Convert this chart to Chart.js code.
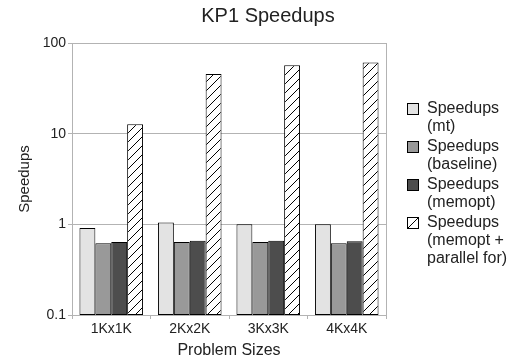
<!DOCTYPE html>
<html>
<head>
<meta charset="utf-8">
<script src="https://cdn.jsdelivr.net/npm/chart.js@4.4.1/dist/chart.umd.min.js"></script>
<style>
  html, body { margin: 0; padding: 0; background: #fff; }
  #wrap { width: 523px; height: 360px; }
</style>
</head>
<body>
<div id="wrap"><canvas id="myChart"></canvas></div>
<script>
const sizes = ['1Kx1K', '2Kx2K', '3Kx3K', '4Kx4K'];
const mt = [0.91, 1.05, 1.0, 1.0];
const baseline = [0.62, 0.64, 0.64, 0.62];
const memopt = [0.64, 0.66, 0.66, 0.65];
const parallelFor = [12.7, 45.4, 57.0, 60.8];
const yTicks = [0.1, 1, 10, 100];
const legendLines = [
  ['Speedups', '(mt)'],
  ['Speedups', '(baseline)'],
  ['Speedups', '(memopt)'],
  ['Speedups', '(memopt +', 'parallel for)']
];

const FONT = '"Liberation Sans", Arial, sans-serif';

// hatch "/" pattern for the last series
function hatch() {
  const c = document.createElement('canvas');
  c.width = 9; c.height = 9;
  const g = c.getContext('2d');
  g.fillStyle = '#fff';
  g.fillRect(0, 0, 9, 9);
  g.strokeStyle = '#000';
  g.lineWidth = 1;
  g.beginPath();
  g.moveTo(0, 9); g.lineTo(9, 0);
  g.moveTo(-1, 1); g.lineTo(1, -1);
  g.moveTo(8, 10); g.lineTo(10, 8);
  g.stroke();
  return g.createPattern(c, 'repeat');
}

const fills = ['#e3e3e3', '#999999', '#4d4d4d', hatch()];

const boxPlugin = {
  id: 'boxAndLegend',
  afterDraw(chart) {
    const ctx = chart.ctx;
    const a = chart.chartArea;
    ctx.save();
    // right border of plot
    ctx.strokeStyle = '#b3b3b3';
    ctx.lineWidth = 1;
    ctx.beginPath();
    ctx.moveTo(Math.round(a.right) + 0.5, a.top);
    ctx.lineTo(Math.round(a.right) + 0.5, a.bottom);
    ctx.stroke();

    // title
    ctx.fillStyle = '#222';
    ctx.font = '20px ' + FONT;
    ctx.textAlign = 'center';
    ctx.textBaseline = 'middle';
    ctx.fillText('KP1 Speedups', 268, 16);

    // legend
    ctx.font = '16px ' + FONT;
    ctx.textAlign = 'left';
    const tops = [103, 141, 179, 217];
    legendLines.forEach((lines, i) => {
      const y = tops[i];
      ctx.fillStyle = i === 3 ? '#fff' : fills[i];
      ctx.fillRect(407.5, y + 0.5, 11, 11);
      ctx.strokeStyle = '#000';
      ctx.strokeRect(407.5, y + 0.5, 11, 11);
      if (i === 3) {
        ctx.beginPath();
        ctx.moveTo(407.5, y + 11.5);
        ctx.lineTo(418.5, y + 0.5);
        ctx.stroke();
      }
      ctx.fillStyle = '#222';
      lines.forEach((t, k) => ctx.fillText(t, 427, y + 6 + k * 18));
    });
    ctx.restore();
  }
};

const series = [mt, baseline, memopt, parallelFor];

new Chart(document.getElementById('myChart'), {
  type: 'bar',
  data: {
    labels: sizes,
    datasets: series.map((d, i) => ({
      label: legendLines[i].join(' '),
      data: d,
      backgroundColor: fills[i],
      borderColor: '#000',
      borderWidth: 1,
      borderSkipped: false,
      categoryPercentage: 0.81,
      barPercentage: 1
    }))
  },
  options: {
    responsive: true,
    maintainAspectRatio: false,
    animation: false,
    layout: { padding: { top: 43, right: 137, left: 0, bottom: 0 } },
    plugins: {
      legend: { display: false },
      title: { display: false },
      tooltip: { enabled: false }
    },
    scales: {
      x: {
        grid: { drawOnChartArea: false, drawTicks: true, tickLength: 4, color: '#b3b3b3' },
        border: { color: '#b3b3b3' },
        ticks: { color: '#222', font: { size: 14, family: FONT }, padding: 2, maxRotation: 0 },
        title: { display: true, text: 'Problem Sizes', color: '#222', font: { size: 16, family: FONT }, padding: { top: 0, bottom: 0 } },
        afterFit: s => { s.height = 45; }
      },
      y: {
        type: 'logarithmic',
        min: 0.1,
        max: 100,
        afterBuildTicks: s => { s.ticks = yTicks.map(v => ({ value: v })); },
        grid: { color: '#b3b3b3', tickLength: 4 },
        border: { color: '#b3b3b3' },
        ticks: { color: '#222', font: { size: 14, family: FONT }, padding: 2, callback: v => String(v) },
        title: { display: true, text: 'Speedups', color: '#222', font: { size: 15, family: FONT }, padding: { top: 16, bottom: 0 } },
        afterFit: s => { s.width = 72; }
      }
    }
  },
  plugins: [boxPlugin]
});
</script>
</body>
</html>
